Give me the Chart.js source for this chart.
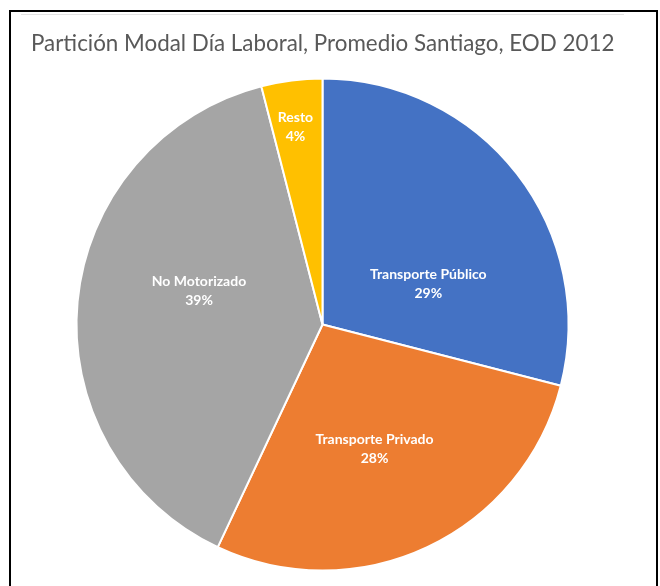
<!DOCTYPE html>
<html>
<head>
<meta charset="utf-8">
<script src="https://cdn.jsdelivr.net/npm/chart.js@4"></script>
<style>
  html, body { margin: 0; padding: 0; background: #fff; overflow: hidden; }
  #wrap { position: relative; width: 660px; height: 586px; }
  #frame {
    position: absolute; left: 9px; top: 10px; width: 649px; height: 600px;
    border-left: 2px solid #000; border-top: 2px solid #000; border-right: 2px solid #000;
    box-sizing: border-box; pointer-events: none;
  }
  #rule { position: absolute; left: 21px; top: 14px; width: 603px; height: 1px; background: #e3e3e3; }
  canvas { position: absolute; left: 0; top: 0; }
</style>
</head>
<body>
<div id="wrap">
  <canvas id="modeChart" width="660" height="586"></canvas>
  <div id="rule"></div>
  <div id="frame"></div>
</div>
<script>
// Trip shares by mode, working day
const titleText = 'Partición Modal Día Laboral, Promedio Santiago, EOD 2012';
const modes = ['Transporte Público', 'Transporte Privado', 'No Motorizado', 'Resto'];
const shares = [29, 28, 39, 4];
const sliceColors = ['#4472C4', '#ED7D31', '#A5A5A5', '#FFC000'];

// label placement: angle shift from slice middle (degrees) and fraction of radius
const labelPlace = [
    { turn: 17, r: 0.46 },
    { turn: 2.6, r: 0.55 },
    { turn: 9.7, r: 0.52 },
    { turn: -0.6, r: 0.81 }
];

const titlePlugin = {
    id: 'excelTitle',
    afterDraw(chart) {
        const ctx = chart.ctx;
        ctx.save();
        let size = 22;
        ctx.font = `${size}px Lato`;
        const w = ctx.measureText(titleText).width;
        size = size * 584 / w;
        ctx.font = `${size}px Lato`;
        ctx.fillStyle = '#595959';
        ctx.textBaseline = 'alphabetic';
        ctx.textAlign = 'left';
        ctx.fillText(titleText, 31, 51);
        ctx.restore();
    }
};

const sliceLabels = {
    id: 'sliceLabels',
    afterDatasetsDraw(chart) {
        const ctx = chart.ctx;
        const meta = chart.getDatasetMeta(0);
        ctx.save();
        ctx.font = 'bold 14px Lato';
        ctx.fillStyle = '#fff';
        ctx.textAlign = 'center';
        ctx.textBaseline = 'middle';
        meta.data.forEach((arc, i) => {
            const p = arc.getProps(['x', 'y', 'startAngle', 'endAngle', 'outerRadius'], true);
            const mid = (p.startAngle + p.endAngle) / 2 + labelPlace[i].turn * Math.PI / 180;
            const rr = p.outerRadius * labelPlace[i].r;
            const cx = p.x + Math.cos(mid) * rr;
            const cy = p.y + Math.sin(mid) * rr;
            ctx.fillText(modes[i], cx, cy - 9.5);
            ctx.fillText(shares[i] + '%', cx, cy + 9.5);
        });
        ctx.restore();
    }
};

new Chart(document.getElementById('modeChart'), {
    type: 'pie',
    data: {
        labels: modes,
        datasets: [{
            data: shares,
            backgroundColor: sliceColors,
            borderColor: '#fff',
            borderWidth: 2
        }]
    },
    options: {
        responsive: false,
        animation: false,
        layout: { padding: { left: 75.5, top: 77.5, right: 90.5, bottom: 14.5 } },
        plugins: {
            legend: { display: false },
            tooltip: { enabled: false },
            title: { display: false }
        }
    },
    plugins: [sliceLabels, titlePlugin]
});
</script>
</body>
</html>
